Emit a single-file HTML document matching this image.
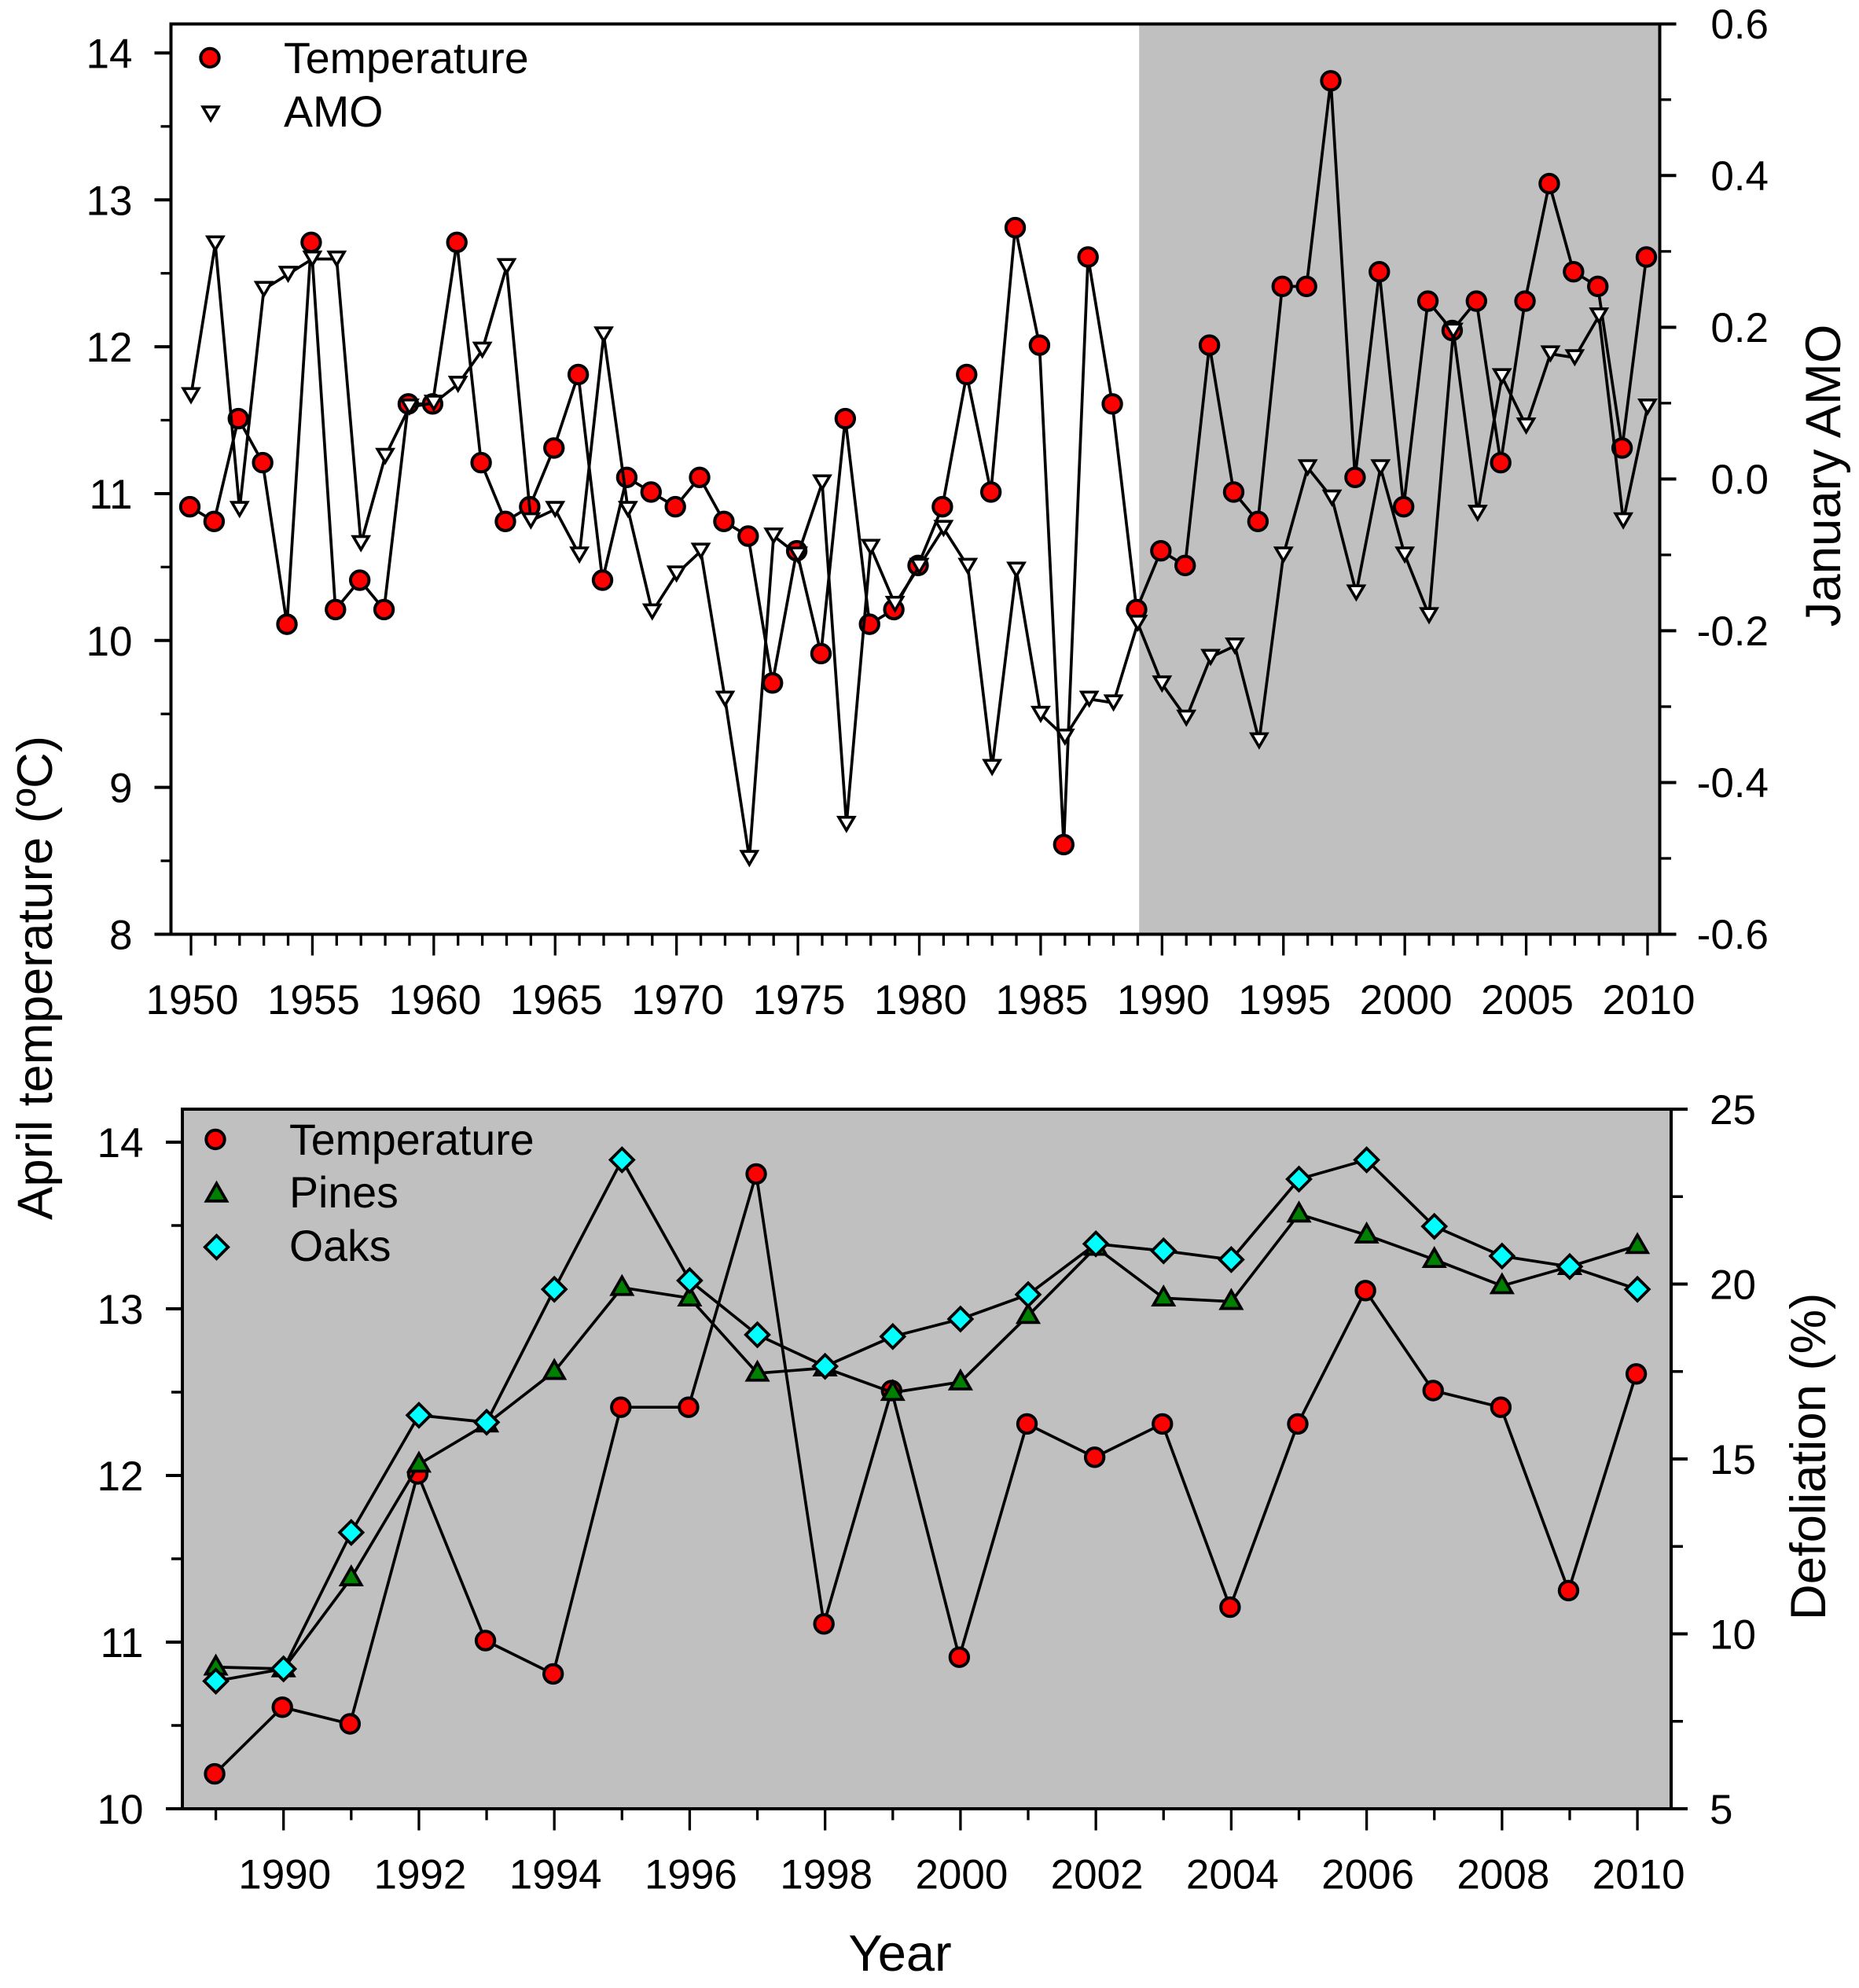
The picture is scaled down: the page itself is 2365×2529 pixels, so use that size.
<!DOCTYPE html>
<html>
<head>
<meta charset="utf-8">
<title>April temperature, January AMO and defoliation</title>
<style>
html,body{margin:0;padding:0;background:#fff;width:2365px;height:2529px;overflow:hidden}
svg{display:block}
text{font-family:"Liberation Sans",Arial,sans-serif;fill:#000}
.tick{font-size:53px}
.legend{font-size:55.5px}
.title{font-size:63.5px}
</style>
</head>
<body>
<svg id="chart" xmlns="http://www.w3.org/2000/svg" width="2365" height="2529" viewBox="0 0 2365 2529">
  <rect x="0" y="0" width="2365" height="2529" fill="#fff"/>
  <g id="top-panel"></g>
  <g id="bottom-panel"></g>

  <text class="title" transform="translate(66,1552) rotate(-90)">April temperature (ºC)</text>
  <text class="title" text-anchor="middle" transform="translate(2341,605) rotate(-90)">January AMO</text>
  <text class="title" text-anchor="middle" transform="translate(2322,1853) rotate(-90)">Defoliation (%)</text>
  <text class="title" text-anchor="middle" style="font-size:65px" x="1145" y="2507">Year</text>

  <g id="legend-top">
    <text class="legend" x="361" y="93">Temperature</text>
    <text class="legend" x="361" y="161">AMO</text>
  </g>
  <g id="legend-bottom">
    <text class="legend" x="368" y="1469">Temperature</text>
    <text class="legend" x="368" y="1536">Pines</text>
    <text class="legend" x="368" y="1604">Oaks</text>
  </g>
</svg>
<script>
// ---- Upper panel data ----
const yearsTop = [1950,1951,1952,1953,1954,1955,1956,1957,1958,1959,1960,1961,1962,1963,1964,1965,1966,1967,1968,1969,1970,1971,1972,1973,1974,1975,1976,1977,1978,1979,1980,1981,1982,1983,1984,1985,1986,1987,1988,1989,1990,1991,1992,1993,1994,1995,1996,1997,1998,1999,2000,2001,2002,2003,2004,2005,2006,2007,2008,2009,2010];
const temperatureTop = [10.9,10.8,11.5,11.2,10.1,12.7,10.2,10.4,10.2,11.6,11.6,12.7,11.2,10.8,10.9,11.3,11.8,10.4,11.1,11.0,10.9,11.1,10.8,10.7,9.7,10.6,9.9,11.5,10.1,10.2,10.5,10.9,11.8,11.0,12.8,12.0,8.6,12.6,11.6,10.2,10.6,10.5,12.0,11.0,10.8,12.4,12.4,13.8,11.1,12.5,10.9,12.3,12.1,12.3,11.2,12.3,13.1,12.5,12.4,11.3,12.6];
const amoTop = [0.11,0.31,-0.04,0.25,0.27,0.29,0.29,-0.085,0.03,0.095,0.10,0.125,0.17,0.28,-0.055,-0.04,-0.10,0.19,-0.04,-0.175,-0.125,-0.095,-0.29,-0.50,-0.075,-0.10,-0.005,-0.455,-0.09,-0.165,-0.115,-0.065,-0.115,-0.38,-0.12,-0.31,-0.34,-0.29,-0.295,-0.19,-0.27,-0.315,-0.235,-0.22,-0.345,-0.10,0.015,-0.025,-0.15,0.015,-0.10,-0.18,0.195,-0.045,0.135,0.07,0.165,0.16,0.215,-0.055,0.095];
const xTickLabelsTop = ["1950","1955","1960","1965","1970","1975","1980","1985","1990","1995","2000","2005","2010"];
const yLeftTickLabelsTop = ["8","9","10","11","12","13","14"];
const yRightTickLabelsTop = ["-0.6","-0.4","-0.2","0.0","0.2","0.4","0.6"];
const shadedStartYear = 1989;

// ---- Lower panel data ----
const yearsBottom = [1989,1990,1991,1992,1993,1994,1995,1996,1997,1998,1999,2000,2001,2002,2003,2004,2005,2006,2007,2008,2009,2010];
const temperatureBottom = [10.2,10.6,10.5,12.0,11.0,10.8,12.4,12.4,13.8,11.1,12.5,10.9,12.3,12.1,12.3,11.2,12.3,13.1,12.5,12.4,11.3,12.6];
const pinesBottom = [9.05,9.0,11.6,14.85,16.0,17.5,19.9,19.6,17.45,17.6,16.9,17.2,19.1,21.05,19.6,19.5,22.0,21.4,20.7,19.95,20.5,21.1];
const oaksBottom = [8.65,9.0,12.9,16.25,16.05,19.85,23.55,20.1,18.55,17.65,18.5,19.0,19.7,21.15,20.95,20.7,23.0,23.55,21.65,20.8,20.5,19.85];
const xTickLabelsBottom = ["1990","1992","1994","1996","1998","2000","2002","2004","2006","2008","2010"];
const yLeftTickLabelsBottom = ["10","11","12","13","14"];
const yRightTickLabelsBottom = ["5","10","15","20","25"];

// ---- Axis functions ----
const NS = 'http://www.w3.org/2000/svg';
const xTop = y => 243 + (y - 1950) * (2096 - 243) / 60;
const yTempTop = v => 1188.5 - (v - 8) * 186.85;
const yAmo = v => 1188.5 - (v + 0.6) * 965.2;
const xBot = y => 360.7 + (y - 1990) * 86.12;
const yTempBot = v => 2301 - (v - 10) * 212;
const yDef = v => 2301 - (v - 5) * 44.5;
// the circle symbols sit slightly up and left of the tick positions in the source figure
const xTopCircle = y => xTop(y) - 1.5;
const yTopCircle = v => yTempTop(v) - 2;
const xBotCircle = y => xBot(y) - 1.5;
const yBotCircle = v => yTempBot(v) - 2;

function mk(tag, parent, attrs) {
  const el = document.createElementNS(NS, tag);
  for (const k in attrs) el.setAttribute(k, attrs[k]);
  parent.appendChild(el);
  return el;
}
function line(parent, name, x1, y1, x2, y2, w) {
  const el = mk('line', parent, {x1: x1, y1: y1, x2: x2, y2: y2, stroke: '#000', 'stroke-width': w || 4});
  
  
  return el;
}
function label(parent, name, str, x, y, anchor) {
  const el = mk('text', parent, {x: x, y: y, 'text-anchor': anchor, class: 'tick'});
  el.textContent = str;
  
  
  return el;
}
function marker(parent, name, shape, cx, cy) {
  let el;
  if (shape === 'circle') {
    el = mk('circle', parent, {cx: cx, cy: cy, r: 11.7, fill: '#ff0000', stroke: '#000', 'stroke-width': 4});
  } else if (shape === 'down') {
    el = mk('polygon', parent, {points: `${cx-9.8},${cy-8.9} ${cx+9.8},${cy-8.9} ${cx},${cy+7.8}`, fill: '#fff', stroke: '#000', 'stroke-width': 3.6});
  } else if (shape === 'up') {
    el = mk('polygon', parent, {points: `${cx-12.8},${cy+8.8} ${cx+12.8},${cy+8.8} ${cx},${cy-13.5}`, fill: '#008000', stroke: '#000', 'stroke-width': 3.8});
  } else {
    el = mk('polygon', parent, {points: `${cx-14.7},${cy} ${cx},${cy-14.7} ${cx+14.7},${cy} ${cx},${cy+14.7}`, fill: '#00ffff', stroke: '#000', 'stroke-width': 3.8});
  }
  
  
  return el;
}
function series(parent, name, shape, xs, ys, xf, yf) {
  const g = mk('g', parent, {});
  
  
  const pts = xs.map((x, i) => xf(x) + ',' + yf(ys[i])).join(' ');
  const pl = mk('polyline', g, {points: pts, fill: 'none', stroke: '#000', 'stroke-width': 3.7, 'stroke-linejoin': 'miter'});
  
  
  xs.forEach((x, i) => marker(g, name + '-point-' + x, shape, xf(x), yf(ys[i])));
}

// ---- Upper panel ----
(function () {
  const p = document.getElementById('top-panel');
  const L = 217.5, R = 2111.5, T = 30.5, B = 1188.5;
  const shadeX = xTop(shadedStartYear) + 1.7;
  const shade = mk('rect', p, {x: shadeX, y: T, width: R - shadeX, height: B - T, fill: '#c0c0c0'});
  
  

  line(p, 'top-panel-left-axis', L, T - 2, L, B + 2);
  line(p, 'top-panel-right-axis', R, T - 2, R, B + 2);
  line(p, 'top-panel-top-axis', L - 2, T, R + 21, T);
  line(p, 'top-panel-bottom-axis', L - 21, B, R + 21, B);

  yLeftTickLabelsTop.forEach(t => {
    const v = +t, y = yTempTop(v);
    if (v > 8) line(p, 'left-tick-' + t, L - 21, y, L, y);
    label(p, 'left-tick-label-' + t, t, 168.5, y + 19, 'end');
    if (v < 14) line(p, 'left-minor-tick', L - 13, yTempTop(v + 0.5), L, yTempTop(v + 0.5), 3.3);
  });
  yRightTickLabelsTop.forEach(t => {
    const v = +t, y = yAmo(v);
    if (v > -0.6 && v < 0.6) line(p, 'right-tick-' + t, R, y, R + 21, y);
    label(p, 'right-tick-label-' + t, t, 2250, y + 18.5, 'end');
    if (v < 0.6) line(p, 'right-minor-tick', R, yAmo(v + 0.1), R + 14.5, yAmo(v + 0.1), 3.3);
  });
  yearsTop.forEach(yr => {
    const major = (yr % 5 === 0);
    line(p, 'x-tick-' + yr, xTop(yr), B, xTop(yr), B + (major ? 27 : 14.5), 3.3);
  });
  xTickLabelsTop.forEach(t => label(p, 'x-tick-label-' + t, t, xTop(+t) + 1.5, 1290, 'middle'));

  series(p, 'temperature-upper', 'circle', yearsTop, temperatureTop, xTopCircle, yTopCircle);
  series(p, 'amo', 'down', yearsTop, amoTop, xTop, yAmo);
})();

// ---- Lower panel ----
(function () {
  const p = document.getElementById('bottom-panel');
  const L = 232, R = 2126, T = 1411, B = 2301;
  const bg = mk('rect', p, {x: L, y: T, width: R - L, height: B - T, fill: '#c0c0c0'});
  
  

  line(p, 'bottom-panel-left-axis', L, T - 2, L, B + 2);
  line(p, 'bottom-panel-right-axis', R, T - 2, R, B + 2);
  line(p, 'bottom-panel-top-axis', L - 2, T, R + 21, T);
  line(p, 'bottom-panel-bottom-axis', L - 21, B, R + 21, B);

  yLeftTickLabelsBottom.forEach(t => {
    const v = +t, y = yTempBot(v);
    if (v > 10) line(p, 'lower-left-tick-' + t, L - 21, y, L, y);
    label(p, 'lower-left-tick-label-' + t, t, 182.5, y + 19, 'end');
    if (v < 14) line(p, 'lower-left-minor-tick', L - 14, yTempBot(v + 0.5), L, yTempBot(v + 0.5), 3.5);
  });
  yRightTickLabelsBottom.forEach(t => {
    const v = +t, y = yDef(v);
    if (v > 5 && v < 25) line(p, 'lower-right-tick-' + t, R, y, R + 21, y);
    label(p, 'lower-right-tick-label-' + t, t, 2175, y + 19, 'start');
    if (v < 25) line(p, 'lower-right-minor-tick', R, yDef(v + 2.5), R + 15, yDef(v + 2.5), 3.5);
  });
  yearsBottom.forEach(yr => {
    const major = (yr % 2 === 0);
    line(p, 'lower-x-tick-' + yr, xBot(yr), B, xBot(yr), B + (major ? 27.5 : 14.5), 3.3);
  });
  xTickLabelsBottom.forEach(t => label(p, 'lower-x-tick-label-' + t, t, xBot(+t) + 1.5, 2402.5, 'middle'));

  series(p, 'temperature-lower', 'circle', yearsBottom, temperatureBottom, xBotCircle, yBotCircle);
  series(p, 'pines', 'up', yearsBottom, pinesBottom, xBot, yDef);
  series(p, 'oaks', 'diamond', yearsBottom, oaksBottom, xBot, yDef);
})();

// ---- Legend symbols ----
(function () {
  const a = document.getElementById('legend-top');
  const b = document.getElementById('legend-bottom');
  marker(a, 'legend-symbol-temperature', 'circle', 267, 73.5);
  marker(a, 'legend-symbol-amo', 'down', 268, 145);
  marker(b, 'legend-symbol-temperature-lower', 'circle', 274, 1449.5);
  marker(b, 'legend-symbol-pines', 'up', 275.5, 1519);
  marker(b, 'legend-symbol-oaks', 'diamond', 275.5, 1586.5);
})();
</script>
</body>
</html>
